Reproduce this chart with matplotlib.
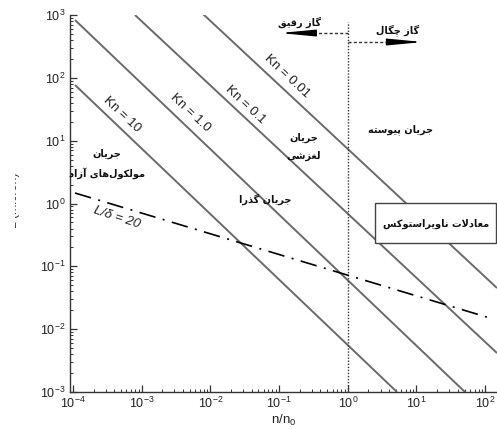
import numpy as np
import matplotlib
matplotlib.use("Agg")
import matplotlib.pyplot as plt
from matplotlib.patches import Rectangle
from matplotlib.transforms import Bbox, TransformedBbox
from matplotlib.ticker import LogLocator, LogFormatterSciNotation, NullFormatter

plt.rcParams['font.family'] = ['Liberation Sans', 'DejaVu Sans']
plt.rcParams['mathtext.fontset'] = 'custom'
plt.rcParams['mathtext.rm'] = 'Liberation Sans'
plt.rcParams['mathtext.it'] = 'Liberation Sans:italic'

# ---- data -------------------------------------------------------------
# Knudsen-number lines: end points (n/n0, L in micron)
kn_labels = ["Kn = 10", "Kn = 1.0", "Kn = 0.1", "Kn = 0.01"]
kn_n = [
    [10**-3.971, 10**0.716],
    [10**-3.971, 10**1.706],
    [10**-3.098, 10**2.172],
    [10**-2.122, 10**2.172],
]
kn_L = [
    [10**1.886, 1e-3],
    [10**2.920, 1e-3],
    [1e3, 10**-2.38],
    [10**3.03, 10**-1.345],
]
# L / delta = 20 line
ld_n = [10**-3.971, 10**2.070]
ld_L = [10**0.167, 10**-1.823]

x_ticks = [1e-4, 1e-3, 1e-2, 1e-1, 1e0, 1e1, 1e2]
y_ticks = [1e-3, 1e-2, 1e-1, 1e0, 1e1, 1e2, 1e3]

# ---- minimal Persian shaping (presentation forms + visual order) -------
FORMS = {
    # char: (isolated, final, initial, medial); None initial => right-joining
    'ا': ('\uFE8D', '\uFE8E', None, None),
    'آ': ('\uFE81', '\uFE82', None, None),
    'د': ('\uFEA9', '\uFEAA', None, None),
    'ذ': ('\uFEAB', '\uFEAC', None, None),
    'ر': ('\uFEAD', '\uFEAE', None, None),
    'ز': ('\uFEAF', '\uFEB0', None, None),
    'و': ('\uFEED', '\uFEEE', None, None),
    'ب': ('\uFE8F', '\uFE90', '\uFE91', '\uFE92'),
    'پ': ('\uFB56', '\uFB57', '\uFB58', '\uFB59'),
    'ت': ('\uFE95', '\uFE96', '\uFE97', '\uFE98'),
    'ج': ('\uFE9D', '\uFE9E', '\uFE9F', '\uFEA0'),
    'چ': ('\uFB7A', '\uFB7B', '\uFB7C', '\uFB7D'),
    'س': ('\uFEB1', '\uFEB2', '\uFEB3', '\uFEB4'),
    'ش': ('\uFEB5', '\uFEB6', '\uFEB7', '\uFEB8'),
    'ع': ('\uFEC9', '\uFECA', '\uFECB', '\uFECC'),
    'غ': ('\uFECD', '\uFECE', '\uFECF', '\uFED0'),
    'ف': ('\uFED1', '\uFED2', '\uFED3', '\uFED4'),
    'ق': ('\uFED5', '\uFED6', '\uFED7', '\uFED8'),
    'ک': ('\uFB8E', '\uFB8F', '\uFB90', '\uFB91'),
    'گ': ('\uFB92', '\uFB93', '\uFB94', '\uFB95'),
    'ل': ('\uFEDD', '\uFEDE', '\uFEDF', '\uFEE0'),
    'م': ('\uFEE1', '\uFEE2', '\uFEE3', '\uFEE4'),
    'ن': ('\uFEE5', '\uFEE6', '\uFEE7', '\uFEE8'),
    'ه': ('\uFEE9', '\uFEEA', '\uFEEB', '\uFEEC'),
    'ی': ('\uFBFC', '\uFBFD', '\uFBFE', '\uFBFF'),
}


def joins_next(ch):
    return ch in FORMS and FORMS[ch][2] is not None


def shape_fa(text):
    lines = []
    for line in text.split('\n'):
        chars = list(line)
        out = []
        i = 0
        while i < len(chars):
            ch = chars[i]
            prev = chars[i - 1] if i > 0 else None
            nxt = chars[i + 1] if i + 1 < len(chars) else None
            if ch not in FORMS:
                if ch != '\u200c':
                    out.append(ch)
                i += 1
                continue
            link_prev = prev is not None and joins_next(prev)
            # lam-alef ligature
            if ch == 'ل' and nxt == 'ا':
                out.append('\uFEFC' if link_prev else '\uFEFB')
                i += 2
                continue
            link_next = joins_next(ch) and nxt in FORMS
            iso, fin, ini, med = FORMS[ch]
            if link_prev and link_next:
                out.append(med)
            elif link_prev:
                out.append(fin)
            elif link_next:
                out.append(ini)
            else:
                out.append(iso)
            i += 1
        lines.append(''.join(reversed(out)))
    return '\n'.join(lines)


FA = dict(family=['DejaVu Sans'], fontweight='bold', fontsize=7, color='#111111')

# ---- figure -----------------------------------------------------------
fig = plt.figure(figsize=(4.97, 4.30), dpi=100)
ax = fig.add_axes([70 / 497, 38 / 430, 427 / 497, 377 / 430])
ax.set_xscale('log')
ax.set_yscale('log')
ax.set_xlim(10**-4.044, 10**2.172)
ax.set_ylim(1e-3, 1e3)

for s in ('top', 'right'):
    ax.spines[s].set_visible(False)
for s in ('left', 'bottom'):
    ax.spines[s].set_color('#333333')
    ax.spines[s].set_linewidth(1.0)

ax.xaxis.set_major_locator(LogLocator(base=10, numticks=20))
ax.yaxis.set_major_locator(LogLocator(base=10, numticks=20))
ax.xaxis.set_minor_locator(LogLocator(base=10, subs=np.arange(2, 10), numticks=20))
ax.yaxis.set_minor_locator(LogLocator(base=10, subs=np.arange(2, 10), numticks=20))
ax.xaxis.set_minor_formatter(NullFormatter())
ax.yaxis.set_minor_formatter(NullFormatter())
ax.xaxis.set_major_formatter(LogFormatterSciNotation())
ax.yaxis.set_major_formatter(LogFormatterSciNotation())
ax.set_xticks(x_ticks)
ax.set_yticks(y_ticks)
ax.tick_params(which='major', direction='in', length=5, width=0.9, color='#333333',
               labelsize=9, labelcolor='#222222', pad=3)
ax.tick_params(which='minor', direction='in', length=2.5, width=0.7, color='#333333')

# Knudsen lines
for n_pts, L_pts in zip(kn_n, kn_L):
    ax.plot(n_pts, L_pts, color='#6a6a6a', lw=1.4, solid_capstyle='butt',
            clip_on=True, zorder=2)

# L/delta = 20
ax.plot(ld_n, ld_L, color='black', lw=1.2, dashes=(10, 4.5, 1.2, 4.5), zorder=3)

# n/n0 = 1 separator
ax.plot([1.0, 1.0], [1e-3, 10**2.89], color='#333333', lw=1.0, ls=(0, (1, 1.2)),
        zorder=2)

# Kn labels
kn_pos = [(10**-3.287, 10**1.408), (10**-2.297, 10**1.440),
          (10**-1.496, 10**1.568), (10**-0.885, 10**2.029)]
for lab, (x, y) in zip(kn_labels, kn_pos):
    ax.text(x, y, lab, rotation=-43, ha='center', va='center', fontsize=9.5,
            color='#222222', rotation_mode='anchor')

ax.text(10**-3.36, 10**-0.231, "L/δ = 20", rotation=-18, ha='center', va='center',
        fontsize=9.5, style='italic', color='#222222', rotation_mode='anchor')

# dilute / dense gas arrows
yl = 10**2.713
ax.plot([1.0, 10**-0.62], [yl, yl], color='#333333', lw=1.0, ls=(0, (2.2, 1.6)))
ax.annotate('', xy=(10**-0.99, yl), xytext=(10**-0.60, yl),
            arrowprops=dict(arrowstyle='-|>,head_length=2.1,head_width=0.2',
                            color='black', lw=1.0, mutation_scale=10,
                            shrinkA=0, shrinkB=0))
yr = 10**2.570
ax.plot([1.0, 10**0.80], [yr, yr], color='#333333', lw=1.0, ls=(0, (2.2, 1.6)))
ax.annotate('', xy=(10**1.095, yr), xytext=(10**0.78, yr),
            arrowprops=dict(arrowstyle='-|>,head_length=2.1,head_width=0.2',
                            color='black', lw=1.0, mutation_scale=10,
                            shrinkA=0, shrinkB=0))
ax.text(10**-0.696, 10**2.889, shape_fa("گاز رقیق"), ha='center', va='center', **FA)
ax.text(10**0.731, 10**2.761, shape_fa("گاز چگال"), ha='center', va='center', **FA)

# regime labels
ax.text(10**0.760, 10**1.170, shape_fa("جریان پیوسته"), ha='center', va='center', **FA)
ax.text(10**-0.638, 10**0.899, shape_fa("جریان\nلغزشی"), ha='center', va='center',
        linespacing=1.9, **FA)
ax.text(10**-1.205, 10**0.071, shape_fa("جریان گذرا"), ha='center', va='center', **FA)
ax.text(10**-3.505, 10**0.629, shape_fa("جریان\nمولکول\u200cهای آزاد"), ha='center',
        va='center', linespacing=1.9, **FA)

# Navier-Stokes box
ax.add_patch(Rectangle((0.714, 0.395), 0.284, 0.106, transform=ax.transAxes,
                       facecolor='white', edgecolor='#444444', lw=1.0, zorder=4,
                       clip_on=False))
ax.text(10**1.284, 10**-0.326, shape_fa("معادلات ناویراستوکس"), ha='center',
        va='center', zorder=5, **FA)

# axis labels
ax.set_xlabel("n/n$_0$", fontsize=9.5, color='#222222', labelpad=1)
ylab = fig.text(14 / 497, 1 - 200 / 430, "L (micron)", rotation=90, ha='center',
                va='center', fontsize=9, color='#333333')
ylab.set_clip_box(TransformedBbox(Bbox([[15 / 497, 0], [1, 1]]), fig.transFigure))
ylab.set_clip_on(True)

fig.savefig("out.png", dpi=100, facecolor='white')
